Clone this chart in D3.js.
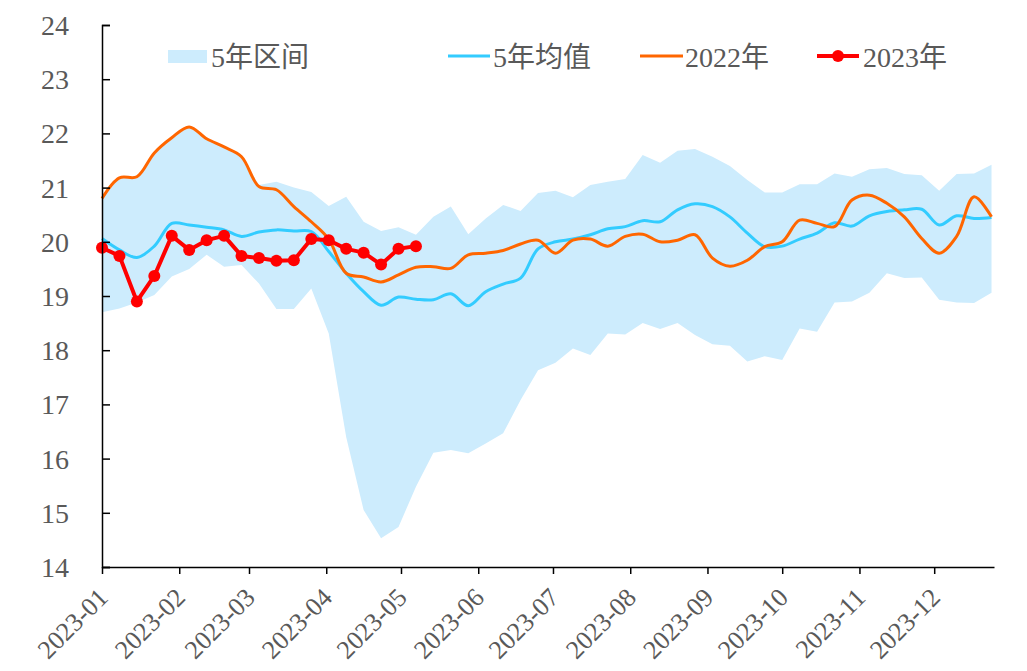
<!DOCTYPE html>
<html>
<head>
<meta charset="utf-8">
<script src="https://cdn.jsdelivr.net/npm/d3@7"></script>
<style>
  body { margin: 0; background: #fff; }
</style>
</head>
<body>
<svg id="chart"></svg>
<script>
// weekly data, first week starts 2023-01-01
const startDate = new Date(2023, 0, 1);
const endDate = new Date(2023, 11, 25);

const rangeUpper = [20.8, 21.18, 21.2, 21.64, 21.92, 22.12, 21.9, 21.75, 21.57,
  21.05, 21.11, 21.0, 20.92, 20.66, 20.83, 20.37, 20.2, 20.27, 20.13, 20.46, 20.65, 20.14, 20.43, 20.68, 20.57, 20.9,
  20.94, 20.82, 21.05, 21.11, 21.16, 21.6, 21.46, 21.68, 21.71, 21.57, 21.4, 21.14, 20.91, 20.91, 21.06, 21.06,
  21.26, 21.2, 21.34, 21.36, 21.25, 21.23, 20.94, 21.25, 21.26, 21.42];

const rangeLower = [18.7, 18.77, 18.88, 19.02, 19.36, 19.5, 19.76, 19.54, 19.57, 19.23, 18.76, 18.76, 19.14,
  18.31, 16.4, 15.05, 14.53, 14.74, 15.48, 16.11, 16.16, 16.1, 16.28, 16.47, 17.08, 17.63, 17.77, 18.03,
  17.91, 18.31, 18.29, 18.5, 18.39, 18.5, 18.28, 18.11, 18.08, 17.79, 17.89, 17.82, 18.4, 18.34, 18.88,
  18.9, 19.06, 19.42, 19.33, 19.34, 18.93, 18.88, 18.87, 19.06];

const mean5y = [20.06, 19.85, 19.71, 19.92, 20.34, 20.31, 20.27, 20.22, 20.1, 20.18, 20.22, 20.2, 20.19,
  19.82, 19.42, 19.08, 18.83, 18.98, 18.94, 18.93, 19.04, 18.82, 19.08, 19.22, 19.33, 19.87,
  20.0, 20.05, 20.13, 20.24, 20.28, 20.39, 20.37, 20.59, 20.7, 20.65, 20.46, 20.16, 19.91, 19.92,
  20.05, 20.16, 20.35, 20.29, 20.48, 20.56, 20.59, 20.6, 20.31, 20.48, 20.43, 20.45];

const y2022 = [20.8, 21.18, 21.2, 21.64, 21.92, 22.12, 21.9, 21.75, 21.57,
  21.02, 20.96, 20.65, 20.37, 20.05, 19.42, 19.35, 19.26, 19.39, 19.53, 19.54, 19.51, 19.76, 19.79, 19.84, 19.96, 20.03,
  19.79, 20.03, 20.05, 19.92, 20.1, 20.14, 20.0, 20.03, 20.13, 19.7, 19.55, 19.66, 19.91, 20.0, 20.4,
  20.34, 20.28, 20.77, 20.86, 20.71, 20.46, 20.06, 19.79, 20.1, 20.83, 20.46];

const y2023 = [19.89, 19.74, 18.9, 19.37, 20.11, 19.85, 20.03, 20.11, 19.74, 19.7,
  19.65, 19.66, 20.05, 20.03, 19.87, 19.8, 19.58, 19.87, 19.92];

const yTicks = [14, 15, 16, 17, 18, 19, 20, 21, 22, 23, 24];
const legendLabels = ['5年区间', '5年均值', '2022年', '2023年'];

const FONT = '"Liberation Serif", "DejaVu Serif", "Noto Sans CJK SC", serif';
const weekDate = i => d3.timeDay.offset(startDate, 7 * i);

const W = 1027, H = 671;
const margin = { top: 25, right: 33, bottom: 104, left: 102 };

const svg = d3.select('#chart').attr('width', W).attr('height', H);

const x = d3.scaleTime()
  .domain([startDate, endDate])
  .range([margin.left, W - margin.right]);

const y = d3.scaleLinear()
  .domain([14, 24])
  .range([H - margin.bottom, margin.top]);

const band = rangeUpper.map((u, i) => ({ date: weekDate(i), hi: u, lo: rangeLower[i] }));

svg.append('path')
  .datum(band)
  .attr('fill', '#cdecfd')
  .attr('d', d3.area()
    .x(d => x(d.date))
    .y0(d => y(d.lo))
    .y1(d => y(d.hi)));

const smooth = d3.line()
  .x((d, i) => x(weekDate(i)))
  .y(d => y(d))
  .curve(d3.curveCatmullRom.alpha(0.5));

svg.append('path')
  .datum(mean5y)
  .attr('fill', 'none')
  .attr('stroke', '#33ccff')
  .attr('stroke-width', 3)
  .attr('d', smooth);

svg.append('path')
  .datum(y2022)
  .attr('fill', 'none')
  .attr('stroke', '#ff6600')
  .attr('stroke-width', 3)
  .attr('d', smooth);

svg.append('path')
  .datum(y2023)
  .attr('fill', 'none')
  .attr('stroke', '#ff0000')
  .attr('stroke-width', 4)
  .attr('stroke-linejoin', 'round')
  .attr('d', d3.line()
    .x((d, i) => x(weekDate(i)))
    .y(d => y(d)));

svg.selectAll('circle.pt')
  .data(y2023)
  .enter().append('circle')
  .attr('class', 'pt')
  .attr('cx', (d, i) => x(weekDate(i)))
  .attr('cy', d => y(d))
  .attr('r', 6)
  .attr('fill', '#ff0000');

// y axis
const yAxis = svg.append('g')
  .attr('transform', 'translate(' + margin.left + ',0)')
  .call(d3.axisLeft(y).tickValues(yTicks).tickSize(-8).tickPadding(33).tickFormat(d3.format('d')));
yAxis.attr('font-family', FONT);
yAxis.select('.domain').attr('stroke', '#000').attr('stroke-width', 1.5);
yAxis.selectAll('.tick line').attr('stroke', '#000').attr('stroke-width', 1.5);
yAxis.selectAll('.tick text')
  .attr('font-family', FONT)
  .attr('font-size', 28)
  .attr('fill', '#595959')
  .attr('dy', '0.34em');

// x axis
const xAxis = svg.append('g')
  .attr('transform', 'translate(0,' + (H - margin.bottom) + ')')
  .call(d3.axisBottom(x).ticks(d3.timeMonth.every(1)).tickSize(7).tickSizeOuter(0)
    .tickFormat(d3.timeFormat('%Y-%m')));
xAxis.attr('font-family', FONT);
xAxis.select('.domain').attr('stroke', '#000').attr('stroke-width', 1.5);
xAxis.selectAll('.tick line').attr('stroke', '#000').attr('stroke-width', 1.5);
xAxis.selectAll('.tick text')
  .attr('font-family', FONT)
  .attr('font-size', 26)
  .attr('fill', '#595959')
  .attr('text-anchor', 'end')
  .attr('y', 0)
  .attr('dy', 0)
  .attr('transform', 'translate(7,32) rotate(-45)');

// legend
const lg = svg.append('g')
  .attr('font-family', FONT)
  .attr('font-size', 28)
  .attr('fill', '#595959');
lg.append('rect').attr('x', 168).attr('y', 50).attr('width', 39).attr('height', 13).attr('fill', '#cdecfd');
lg.append('text').attr('x', 211).attr('y', 67).text(legendLabels[0]);

lg.append('line').attr('x1', 448).attr('x2', 490).attr('y1', 56).attr('y2', 56)
  .attr('stroke', '#33ccff').attr('stroke-width', 3);
lg.append('text').attr('x', 493).attr('y', 67).text(legendLabels[1]);

lg.append('line').attr('x1', 640).attr('x2', 683).attr('y1', 56).attr('y2', 56)
  .attr('stroke', '#ff6600').attr('stroke-width', 3);
lg.append('text').attr('x', 685).attr('y', 67).text(legendLabels[2]);

lg.append('line').attr('x1', 817).attr('x2', 859).attr('y1', 56).attr('y2', 56)
  .attr('stroke', '#ff0000').attr('stroke-width', 4);
lg.append('circle').attr('cx', 838).attr('cy', 56).attr('r', 6).attr('fill', '#ff0000');
lg.append('text').attr('x', 863).attr('y', 67).text(legendLabels[3]);
</script>
</body>
</html>
